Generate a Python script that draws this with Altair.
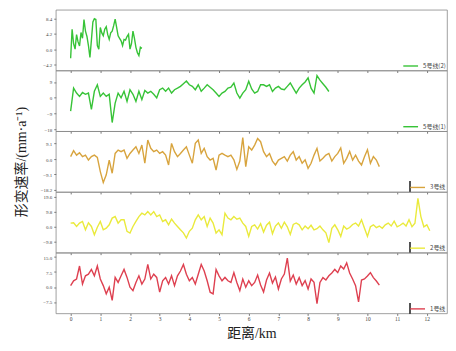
import altair as alt
import pandas as pd

# ---------------- data ----------------
STEP_FINE = 0.05   # km between samples, 5号线(2)
STEP = 0.1         # km between samples, other lines

line5b_vals = [  # 5号线(2)
    -2.5, 5.5, 1.5, 0.0, 4.0, 2.0, 0.9, 4.6, 3.0, 8.2,
    5.0, 3.5, 1.0, -2.3, 2.5, 7.5, 8.4, 8.2, 1.0, 0.0,
    6.0, 4.5, 3.7, 5.5, 6.2, 4.0, 2.7, 4.5, 5.0, 6.5,
    8.3, 6.0, 3.7, 3.0, 2.3, 1.0, 2.7, 2.5, 3.5, 4.1,
    0.0, 1.5, 5.0, 3.0, 0.5, -1.0, -1.8, 0.5, 0.2,
]
line5a_vals = [  # 5号线(1)
    -7.5, 5.5, 2.7, 0.8, 3.0, 2.0, 2.7, -6.5, 3.7, 7.4,
    0.8, 2.7, 0.8, 2.0, -14.0, -3.0, 2.7, 0.0, 3.7, -2.0,
    4.6, 2.0, -2.0, 3.7, -1.0, 4.2, 2.7, 3.7, 2.0, 0.0,
    4.6, 5.5, 3.7, 5.5, 2.7, 4.6, 5.5, 6.5, 8.0, 9.5,
    7.4, 6.5, 4.6, 7.4, 3.7, 5.5, 7.4, 6.0, 4.6, 2.7,
    0.8, 2.7, 3.6, 5.5, 6.0, 8.4, 2.7, -0.2, 2.7, 4.6,
    9.4, 5.0, 2.7, 3.6, 7.4, 7.4, 6.5, 7.4, 3.6, 5.5,
    6.5, 5.0, 4.6, 6.5, 8.4, 5.5, 2.7, 5.5, 7.4, 9.0,
    11.3, 5.5, 2.7, 12.6, 10.0, 8.0, 6.0, 3.6,
]
line3_vals = [  # 3号线
    1.4, 4.9, 2.3, 3.7, 1.4, 2.3, -0.6, 1.4, 2.3, 1.0,
    -7.4, -13.9, -9.3, -0.6, -8.4, 3.3, 5.3, 4.3, 5.3, 0.4,
    3.3, 5.3, 7.2, 3.3, 8.2, -2.5, 11.2, 6.3, 4.3, 5.3,
    3.3, 4.3, 2.3, -3.5, 9.2, 4.3, 1.4, 3.3, 5.3, 7.2,
    2.3, -2.5, 9.2, 11.2, 3.3, 6.3, 1.4, -0.6, 0.4, -6.5,
    2.3, 3.3, 2.3, 1.4, 2.3, -0.5, -6.1, -1.2, 12.7, -4.5,
    7.2, 5.3, 8.2, 12.1, 10.2, 4.3, 1.4, 3.3, -1.2, -3.5,
    -0.6, 0.4, 1.4, -1.2, 2.3, 4.3, -0.6, 1.4, -2.5, -0.5,
    -5.5, -2.5, 2.3, 6.3, -1.2, 0.4, 2.3, 3.3, -1.2, 1.4,
    3.3, 6.5, -2.5, 0.4, 4.5, -0.6, 2.3, -1.2, -3.5, 1.4,
    5.5, -2.5, 1.4, -0.6, -4.5,
]
line2_vals = [  # 2号线
    2.4, 2.6, 0.2, 2.4, 3.5, -2.0, 2.6, 0.2, -5.2, -0.3,
    3.5, -2.0, -0.9, 1.3, 5.7, 6.7, 2.4, 4.6, 4.6, -3.0,
    -4.1, 0.2, 3.5, 6.7, 8.9, 7.8, 10.0, 7.8, 10.0, 6.7,
    7.8, 3.5, 4.6, 1.3, 5.0, 2.4, 0.2, -2.0, -4.0, -7.4,
    -3.0, -0.9, 4.6, 7.8, 4.6, 6.7, 0.2, 5.7, 2.4, -4.1,
    -2.0, -5.2, 8.9, 5.7, 4.6, 6.7, 5.0, 5.7, 2.4, 0.2,
    -6.3, 0.2, 1.3, -1.5, 2.0, -3.5, 1.0, 3.0, -4.5, 0.5,
    2.5, -1.0, 3.0, 0.0, -5.0, 1.5, 2.5, 1.3, -2.0, 0.5,
    -1.3, 1.0, -2.0, -1.3, 0.5, -2.0, -4.0, -10.4, -1.0, 1.3,
    -2.0, -6.3, 0.5, -1.5, -0.5, 1.5, 2.4, 0.5, 4.6, -1.0,
    -6.3, 0.0, 1.3, -0.5, 0.5, -1.0, 1.3, 2.4, 0.5, 3.7,
    0.0, 1.0, 2.4, 0.5, 4.6, 0.0, 2.4, 18.7, 6.7, 0.0,
    1.3, -2.6,
]
line1_vals = [  # 1号线
    0.7, 3.1, 4.0, 10.5, 1.5, 5.6, 6.4, 8.8, 5.6, 10.5,
    4.0, 0.7, -3.4, -0.1, -6.7, 4.8, 2.3, 5.6, 8.8, 4.8,
    -0.1, -1.8, 2.3, 5.6, 1.5, 4.0, 11.3, 4.0, 6.4, 4.8,
    -2.6, 3.1, 4.8, 1.5, 5.6, 0.7, 5.6, 8.0, 11.3, 6.4,
    3.1, 4.8, 1.5, 6.4, 11.3, 8.0, 3.1, -2.6, -3.4, 8.8,
    5.6, 3.1, 4.8, 3.1, 2.3, 7.2, 2.3, -1.8, 4.0, -0.1,
    3.1, 0.7, 2.3, 6.0, 1.0, -2.5, 3.5, 7.0, 2.0, 5.0,
    -1.0, 4.0, 6.5, 14.5, 3.0, 6.0, 1.5, 4.7, 0.7, 3.2,
    -1.0, 4.0, 2.3, -8.3, 2.3, 4.7, 3.5, 5.6, 7.0, 8.8,
    7.2, 10.5, 9.0, 12.1, 7.0, 4.0, 0.7, -7.5, 3.5, 4.0,
    5.5, 7.2, 4.7, 3.0, 0.9,
]

names = ["5号线(2)", "5号线(1)", "3号线", "2号线", "1号线"]
series = [line5b_vals, line5a_vals, line3_vals, line2_vals, line1_vals]
steps = [STEP_FINE, STEP, STEP, STEP, STEP]
colors = ["#37c337", "#37c337", "#d8a43e", "#eaea3c", "#de4050"]
y_domains = [[-5.9, 10.9], [-18.9, 15.5], [-19.4, 16.4], [-17.0, 22.9], [-13.2, 17.2]]
y_ticks = [[-4.2, 0, 4.2, 8.4], [-18, -9, 0, 9], [-18.2, -9.1, 0, 9.1],
           [-9.8, 0, 9.8, 19.6], [-7.5, 0, 7.5, 15]]
y_formats = [".1f", "d", ".1f", ".1f", ".1f"]
x_ticks = list(range(0, 13))
x_domain = [-0.5, 12.68]
legend_bar_panels = [2, 3, 4]   # panels with a small dark bar left of the legend

y_title = "形变速率/(mm·a⁻¹)"
x_title = "距离/km"

SERIF = "Liberation Serif, Noto Sans CJK SC"

panels = []
for i, vals in enumerate(series):
    df = pd.DataFrame({
        "dist": [round(k * steps[i], 3) for k in range(len(vals))],
        "rate": vals,
        "line": names[i],
    })
    last = i == len(series) - 1
    xaxis_kw = dict(values=x_ticks, labels=last, ticks=True, tickSize=2,
                    tickColor="#777", domain=False, grid=False,
                    labelFontSize=5.5, labelFont="Liberation Serif",
                    labelColor="#444", labelPadding=1, labelOverlap=False,
                    labelSeparation=0, labelFlush=False)
    if last:
        xaxis_kw.update(title=x_title, titleFontSize=14, titleFont=SERIF,
                        titleFontWeight="normal", titleColor="#222",
                        titlePadding=5)
    else:
        xaxis_kw.update(title="")
    yaxis_kw = dict(values=y_ticks[i], format=y_formats[i], tickSize=2,
                    tickColor="#777", domain=False, grid=False,
                    labelFontSize=5, labelFont="Liberation Serif",
                    labelColor="#444", labelPadding=2, labelOverlap=False,
                    minExtent=20, maxExtent=20)
    if i == 2:
        yaxis_kw.update(title=y_title, titleFontSize=14, titleFont=SERIF,
                        titleFontWeight="normal", titleColor="#222",
                        titlePadding=7)
    else:
        yaxis_kw.update(title="")

    xs = alt.Scale(domain=x_domain, nice=False, zero=False)
    ys = alt.Scale(domain=y_domains[i], nice=False, zero=False)

    p = alt.Chart(df).mark_line(strokeWidth=1.4, interpolate="linear").encode(
        x=alt.X("dist:Q", scale=xs, axis=alt.Axis(**xaxis_kw)),
        y=alt.Y("rate:Q", scale=ys, axis=alt.Axis(**yaxis_kw)),
        color=alt.Color("line:N",
                        scale=alt.Scale(domain=[names[i]], range=[colors[i]]),
                        legend=alt.Legend(title=None, orient="bottom-right",
                                          offset=1, padding=0,
                                          symbolType="stroke", symbolSize=220,
                                          symbolStrokeWidth=1.4,
                                          labelFontSize=6,
                                          labelFont="Noto Sans CJK SC",
                                          labelColor="#444", labelOffset=4)),
    )
    if i in legend_bar_panels:
        bar = alt.Chart(df).mark_rule(color="#555", strokeWidth=0.7).encode(
            x=alt.value(356), y=alt.value(51), y2=alt.value(61),
        )
        p = alt.layer(p, bar)
    p = p.properties(width=393, height=61)
    panels.append(p)

chart = (
    alt.vconcat(*panels, spacing=0, bounds="flush")
    .resolve_scale(color="independent", y="independent", x="independent")
    .resolve_legend(color="independent")
    .properties(padding={"left": 6, "top": 0, "right": 0, "bottom": 0},
                background="white")
    .configure_view(stroke="#888", strokeWidth=0.8)
    .configure_axis(labelOverlap=False)
)

chart.save("out.html", embed_options={"renderer": "svg", "actions": False})
